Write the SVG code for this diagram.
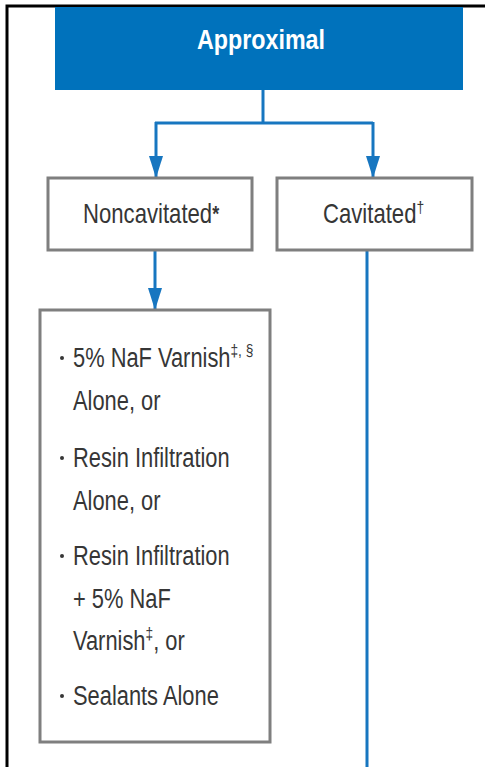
<svg xmlns="http://www.w3.org/2000/svg" width="485" height="767" viewBox="0 0 485 767">
  <style>
    .frame { fill: none; stroke: #000; stroke-width: 3; }
    .box { fill: #fff; stroke: #7f7f7f; stroke-width: 3; }
    .head { fill: #0072bc; }
    .link { fill: none; stroke: #1776c0; stroke-width: 3; }
    .t { font-family: "Liberation Sans", Arial, sans-serif; font-size: 27px; fill: #363636; }
    .s { font-size: 17px; }
    .title { font-family: "Liberation Sans", Arial, sans-serif; font-size: 27px; font-weight: bold; fill: #fff; }
    .dot { fill: #363636; }
  </style>
  <defs>
    <marker id="tip" viewBox="0 0 22 14" refX="22" refY="7" markerWidth="22" markerHeight="14" markerUnits="userSpaceOnUse" orient="auto">
      <path d="M0,0 L22,7 L0,14 Z" fill="#1776c0"/>
    </marker>
  </defs>

  <!-- page frame: top and left rules -->
  <path class="frame" d="M7,767 V6 H485"/>

  <!-- connectors -->
  <g id="connectors">
    <path class="link" d="M263,90 V123"/>
    <path class="link" d="M155,123 H373"/>
    <path class="link" d="M156,122 V178" marker-end="url(#tip)"/>
    <path class="link" d="M373,122 V178" marker-end="url(#tip)"/>
    <path class="link" d="M155,251 V310" marker-end="url(#tip)"/>
    <path class="link" d="M367,251 V767"/>
  </g>

  <g id="approximal">
    <rect class="head" x="55" y="7" width="408" height="83"/>
    <text class="title" x="197" y="49" textLength="128" lengthAdjust="spacingAndGlyphs">Approximal</text>
  </g>

  <g id="noncavitated">
    <rect class="box" x="48" y="178" width="204" height="72"/>
    <g transform="translate(83 0) scale(0.82 1)">
      <text class="t" x="0" y="223">Noncavitated<tspan font-weight="bold" font-size="22" dy="-2">*</tspan></text>
    </g>
  </g>

  <g id="cavitated">
    <rect class="box" x="277" y="178" width="195" height="72"/>
    <g transform="translate(323 0) scale(0.82 1)">
      <text class="t" x="0" y="223">Cavitated<tspan class="s" dy="-10">†</tspan></text>
    </g>
  </g>

  <g id="noncavitated-options">
    <rect class="box" x="40" y="310" width="230" height="432"/>
    <circle class="dot" cx="62" cy="358" r="2"/>
    <circle class="dot" cx="62" cy="458" r="2"/>
    <circle class="dot" cx="62" cy="556" r="2"/>
    <circle class="dot" cx="62" cy="696" r="2"/>
    <g transform="translate(73 0) scale(0.81 1)">
      <text class="t" x="0" y="367">5% NaF Varnish<tspan class="s" dy="-11">‡, §</tspan></text>
      <text class="t" x="0" y="410">Alone, or</text>
      <text class="t" x="0" y="467">Resin Infiltration</text>
      <text class="t" x="0" y="510">Alone, or</text>
      <text class="t" x="0" y="565">Resin Infiltration</text>
      <text class="t" x="0" y="608">+ 5% NaF</text>
      <text class="t" x="0" y="650">Varnish<tspan class="s" dy="-11">‡</tspan><tspan dy="11">, or</tspan></text>
      <text class="t" x="0" y="705">Sealants Alone</text>
    </g>
  </g>
</svg>
